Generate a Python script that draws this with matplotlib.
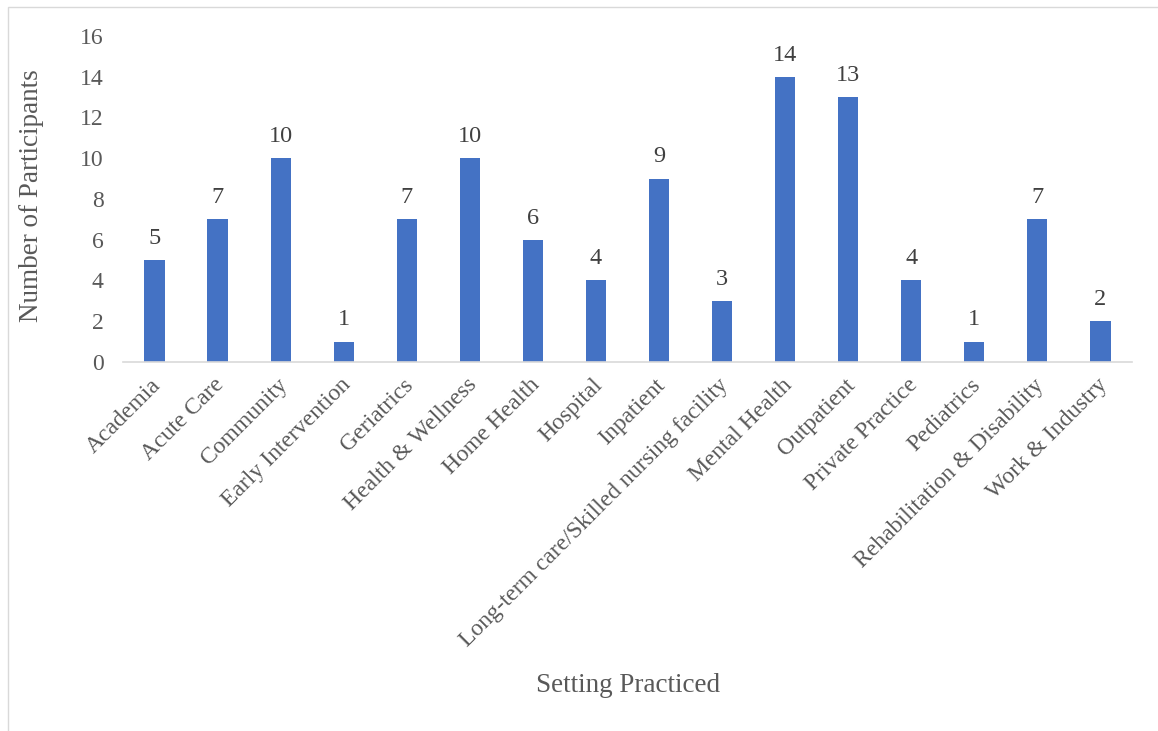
import matplotlib.pyplot as plt
import matplotlib.transforms as mtransforms
import numpy as np
from matplotlib.patches import Rectangle

settings = ['Academia', 'Acute Care', 'Community', 'Early Intervention', 'Geriatrics',
            'Health & Wellness', 'Home Health', 'Hospital', 'Inpatient',
            'Long-term care/Skilled nursing facility', 'Mental Health', 'Outpatient',
            'Private Practice', 'Pediatrics', 'Rehabilitation & Disability', 'Work & Industry']
participants = [5, 7, 10, 1, 7, 10, 6, 4, 9, 3, 14, 13, 4, 1, 7, 2]

plt.rcParams['font.family'] = ['Liberation Serif', 'DejaVu Serif']

fig = plt.figure(figsize=(11.58, 7.31), dpi=100)
ax = fig.add_axes([0.1062, 0.5048, 0.8713, 0.446])

x = np.arange(len(settings))
bars = ax.bar(x, participants, width=0.32, color='#4472C4')
for b, v in zip(bars, participants):
    ax.text(b.get_x() + b.get_width() / 2, v + 0.55, str(v), ha='center', va='bottom',
            fontsize=17.5, color='#404040')

ax.set_xlim(-0.5, len(settings) - 0.5)
ax.set_ylim(0, 16)
ax.set_yticks(range(0, 17, 2))
ax.set_xticks(x)
ax.set_xticklabels(settings, rotation=45, ha='right', rotation_mode='anchor')
ax.tick_params(axis='both', length=0, labelsize=17, labelcolor='#595959')
ax.tick_params(axis='y', pad=14)
ax.tick_params(axis='x', pad=9)
# nudge the slanted category labels a little to the left
shift = mtransforms.ScaledTranslation(-4 / 100, 0, fig.dpi_scale_trans)
for lbl in ax.get_xticklabels():
    lbl.set_transform(lbl.get_transform() + shift)
for s in ['top', 'right', 'left']:
    ax.spines[s].set_visible(False)
ax.spines['bottom'].set_color('#D9D9D9')
ax.spines['bottom'].set_linewidth(1.2)

ax.set_ylabel('Number of Participants', fontsize=19.5, color='#595959')
ax.yaxis.set_label_coords(-0.078, 0.51)
fig.text(0.542, 0.062, 'Setting Practiced', ha='center', va='center',
         fontsize=19.5, color='#595959')

# light frame around the chart area
fig.patches.append(Rectangle((8 / 1158, -0.1), 1.2, 1 - 7 / 731 + 0.1,
                             transform=fig.transFigure, fill=False,
                             edgecolor='#D9D9D9', linewidth=1))

fig.savefig('out.png', dpi=100)
